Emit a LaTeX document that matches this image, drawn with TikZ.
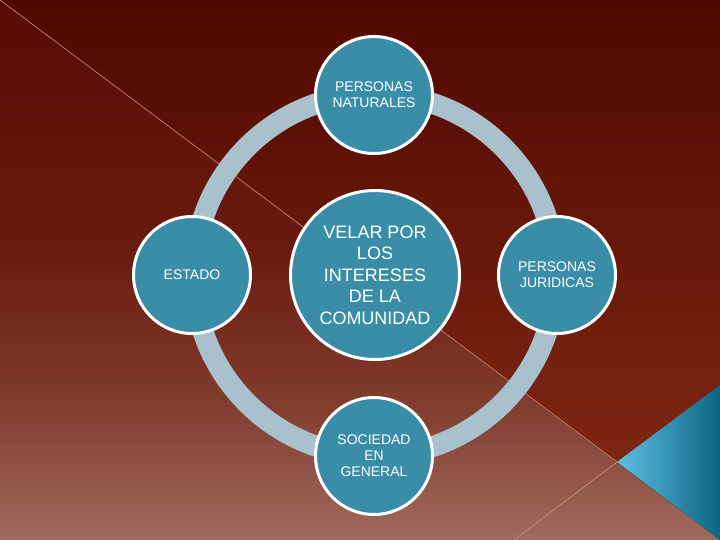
\documentclass[tikz,border=0pt]{standalone}
\usepackage{fontspec}
\setmainfont{Liberation Sans}
\definecolor{bgtop}{HTML}{580C02}
\definecolor{bgmid}{HTML}{6A1A0E}
\definecolor{bglow}{HTML}{803C2C}
\definecolor{bgbot}{HTML}{A06A5E}
\definecolor{uptop}{HTML}{500800}
\definecolor{upbot}{HTML}{842C16}
\definecolor{ringgray}{HTML}{A9C1CC}
\definecolor{discblue}{HTML}{3A8DA6}
\definecolor{tipblue}{HTML}{5CBFE2}
\definecolor{deepblue}{HTML}{0D6482}
\definecolor{seamline}{HTML}{D2907A}
\pgfdeclareverticalshading{slidebg}{100bp}{color(0bp)=(bgbot); color(25bp)=(bgbot);
  color(38bp)=(bglow); color(52bp)=(bgmid); color(75bp)=(bgtop); color(100bp)=(bgtop)}

\begin{document}
\begin{tikzpicture}[x=1pt,y=-1pt,
    disc/.style={circle,draw=white,line width=3pt,fill=discblue,text=white,
      align=center,minimum size=117pt,inner sep=0pt,font=\fontsize{14}{16}\selectfont},
    hub/.style={disc,minimum size=169pt,font=\fontsize{18}{21.5}\selectfont}]
      \useasboundingbox (0,0) rectangle (720,540);
      \shade[shading=slidebg] (0,0) rectangle (720,540);
      \shade[top color=uptop,bottom color=upbot] (0,0) -- (720,0) -- (720,540) -- cycle;
      \draw[seamline,line width=0.6pt] (0,0) -- (617,462) -- (514,540);
      \shade[left color=tipblue,right color=deepblue] (617,462) -- (720,385) -- (720,540) -- cycle;

      \coordinate (c) at (375,275);
      \draw[ringgray,line width=21pt] (c) circle (181);

      \node[hub] (velar) at (c) {VELAR POR\\LOS\\INTERESES\\DE LA\\COMUNIDAD};
      \node[disc] (naturales) at (374,95) {PERSONAS\\NATURALES};
      \node[disc] (estado) at (192,275) {ESTADO};
      \node[disc] (juridicas) at (557,275) {PERSONAS\\JURIDICAS};
      \node[disc] (sociedad) at (374,456) {SOCIEDAD\\EN\\GENERAL};
\end{tikzpicture}
\end{document}
